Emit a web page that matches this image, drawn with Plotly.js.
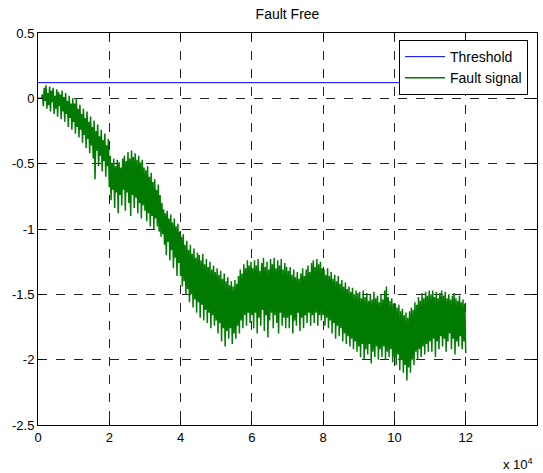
<!DOCTYPE html>
<html>
<head>
<meta charset="utf-8">
<script src="https://cdn.plot.ly/plotly-3.0.1.min.js"></script>
<style>html,body{margin:0;padding:0;background:#fff;}#chart{width:543px;height:473px;}</style>
</head>
<body>
<div id="chart"></div>
<script>
// sample interval of the fault signal (x units)
var sampleStep = 250;

// Fault signal values (one value per sample, 40 per 1e4)
var faultSignal = [
  0.00, 0.00, 0.00, 0.00, 0.00, 0.03, -0.06, 0.08, -0.02, 0.10, -0.08, 0.04, -0.05, 0.09, -0.10, 0.06, -0.03, 0.08, -0.12, 0.02, -0.08, 0.07, -0.14, 0.05, -0.06, 0.03, -0.16, 0.06, -0.10, 0.01, -0.18, 0.04, -0.12, -0.02, -0.22, 0.02, -0.15, -0.04, -0.24, 0.00,
  -0.18, -0.04, -0.27, 0.00, -0.22, -0.08, -0.30, -0.05, -0.24, -0.12, -0.34, -0.08, -0.28, -0.15, -0.38, -0.10, -0.31, -0.18, -0.42, -0.14, -0.36, -0.22, -0.46, -0.17, -0.62, -0.25, -0.40, -0.20, -0.52, -0.29, -0.44, -0.24, -0.56, -0.32, -0.48, -0.27, -0.60, -0.36, -0.52, -0.31,
  -0.68, -0.44, -0.78, -0.50, -0.70, -0.46, -0.84, -0.52, -0.72, -0.47, -0.88, -0.49, -0.74, -0.53, -0.82, -0.46, -0.70, -0.44, -0.86, -0.48, -0.72, -0.41, -0.80, -0.46, -0.90, -0.40, -0.74, -0.45, -0.84, -0.42, -0.76, -0.47, -0.88, -0.44, -0.80, -0.49, -0.92, -0.47, -0.82, -0.53,
  -0.86, -0.55, -0.94, -0.52, -0.88, -0.60, -0.98, -0.57, -0.90, -0.64, -1.00, -0.62, -0.92, -0.70, -0.98, -0.66, -1.02, -0.74, -1.06, -0.80, -1.04, -0.85, -1.12, -0.88, -1.20, -0.86, -1.10, -0.92, -1.24, -0.89, -1.16, -0.95, -1.30, -0.92, -1.22, -0.98, -1.36, -0.96, -1.26, -1.02,
  -1.36, -1.06, -1.44, -1.04, -1.40, -1.12, -1.50, -1.09, -1.46, -1.16, -1.56, -1.12, -1.50, -1.19, -1.60, -1.15, -1.54, -1.22, -1.64, -1.18, -1.56, -1.20, -1.68, -1.24, -1.58, -1.19, -1.70, -1.27, -1.62, -1.23, -1.72, -1.29, -1.64, -1.25, -1.76, -1.31, -1.66, -1.28, -1.74, -1.33,
  -1.70, -1.30, -1.80, -1.35, -1.72, -1.32, -1.86, -1.38, -1.76, -1.34, -1.90, -1.40, -1.78, -1.37, -1.84, -1.43, -1.76, -1.40, -1.88, -1.44, -1.80, -1.39, -1.84, -1.42, -1.74, -1.36, -1.80, -1.31, -1.70, -1.34, -1.76, -1.27, -1.66, -1.30, -1.74, -1.24, -1.64, -1.28, -1.72, -1.25,
  -1.66, -1.30, -1.76, -1.24, -1.64, -1.28, -1.80, -1.23, -1.68, -1.32, -1.74, -1.26, -1.62, -1.22, -1.78, -1.29, -1.66, -1.25, -1.83, -1.31, -1.70, -1.23, -1.64, -1.27, -1.76, -1.22, -1.66, -1.30, -1.72, -1.24, -1.80, -1.28, -1.64, -1.23, -1.74, -1.31, -1.68, -1.26, -1.76, -1.29,
  -1.68, -1.32, -1.76, -1.29, -1.66, -1.35, -1.80, -1.31, -1.70, -1.37, -1.74, -1.33, -1.64, -1.38, -1.78, -1.34, -1.68, -1.30, -1.76, -1.36, -1.66, -1.31, -1.72, -1.28, -1.64, -1.33, -1.74, -1.26, -1.66, -1.24, -1.72, -1.29, -1.64, -1.23, -1.74, -1.27, -1.66, -1.25, -1.70, -1.30,
  -1.66, -1.31, -1.74, -1.35, -1.68, -1.30, -1.76, -1.36, -1.70, -1.33, -1.80, -1.38, -1.72, -1.35, -1.84, -1.40, -1.74, -1.36, -1.82, -1.42, -1.76, -1.39, -1.86, -1.44, -1.80, -1.41, -1.88, -1.46, -1.82, -1.44, -1.90, -1.48, -1.84, -1.45, -1.92, -1.50, -1.86, -1.47, -1.94, -1.49,
  -1.90, -1.48, -1.98, -1.53, -1.88, -1.47, -2.00, -1.52, -1.92, -1.49, -1.96, -1.55, -1.88, -1.50, -2.03, -1.54, -1.94, -1.48, -1.98, -1.53, -1.90, -1.51, -2.00, -1.56, -1.92, -1.50, -1.98, -1.54, -1.90, -1.47, -2.00, -1.44, -1.94, -1.52, -1.98, -1.55, -1.92, -1.53, -2.02, -1.57,
  -1.98, -1.57, -2.04, -1.60, -1.96, -1.58, -2.08, -1.63, -2.00, -1.61, -2.10, -1.66, -2.04, -1.64, -2.16, -1.68, -2.06, -1.63, -2.10, -1.60, -2.00, -1.62, -2.04, -1.56, -1.94, -1.58, -2.00, -1.52, -1.92, -1.55, -1.98, -1.49, -1.90, -1.53, -1.96, -1.48, -1.88, -1.51, -1.94, -1.47,
  -1.86, -1.50, -1.94, -1.47, -1.84, -1.52, -1.98, -1.48, -1.86, -1.53, -1.92, -1.49, -1.82, -1.47, -1.90, -1.51, -1.84, -1.48, -1.94, -1.53, -1.86, -1.50, -1.80, -1.54, -1.92, -1.51, -1.84, -1.49, -1.96, -1.53, -1.86, -1.55, -1.90, -1.51, -1.82, -1.56, -1.92, -1.54, -1.86, -1.57,
  -1.95
];

// Threshold line
var thresholdX = [0, 120000];
var thresholdY = [0.12, 0.12];

// Axis ticks
var xTickVals = [0, 20000, 40000, 60000, 80000, 100000, 120000, 140000];
var xTickText = ['0', '2', '4', '6', '8', '10', '12', '14'];
var yTickVals = [0.5, 0, -0.5, -1, -1.5, -2, -2.5];
var yTickText = ['0.5', '0', '-0.5', '-1', '-1.5', '-2', '-2.5'];

var faultX = faultSignal.map(function (v, i) { return i * sampleStep; });

var FONT = 'Liberation Sans, Arial, Helvetica, sans-serif';
var FS = 13;

var traces = [
  {
    x: thresholdX, y: thresholdY, mode: 'lines', name: 'Threshold',
    line: {color: '#0000ff', width: 1}, type: 'scatter'
  },
  {
    x: faultX, y: faultSignal, mode: 'lines', name: 'Fault signal',
    line: {color: '#007a00', width: 1.5}, type: 'scatter'
  }
];

var axisCommon = {
  showline: true, linecolor: '#000', linewidth: 1, mirror: 'ticks',
  ticks: 'inside', ticklen: 5, tickcolor: '#000', tickwidth: 1,
  showgrid: true, gridcolor: '#222', gridwidth: 1, griddash: 'dash',
  zeroline: false, tickfont: {family: FONT, size: FS, color: '#000'}
};

var layout = {
  width: 543, height: 473,
  margin: {l: 38, r: 6, t: 33, b: 48},
  paper_bgcolor: '#fff', plot_bgcolor: '#fff',
  font: {family: FONT, size: FS, color: '#000'},
  title: {text: 'Fault Free', font: {family: FONT, size: 14, color: '#000'},
          x: 0.5, xref: 'paper', y: 1 - 14 / 473, yref: 'container', yanchor: 'middle'},
  xaxis: Object.assign({}, axisCommon, {
    range: [0, 140000], tickmode: 'array', tickvals: xTickVals, ticktext: xTickText
  }),
  yaxis: Object.assign({}, axisCommon, {
    range: [-2.5, 0.5], tickmode: 'array', tickvals: yTickVals, ticktext: yTickText
  }),
  showlegend: true,
  legend: {
    x: 0.982, xanchor: 'right', y: 0.982, yanchor: 'top',
    bgcolor: '#fff', bordercolor: '#000', borderwidth: 1,
    font: {family: FONT, size: 14, color: '#000'},
    itemwidth: 40, tracegroupgap: 0
  },
  annotations: [{
    text: 'x 10<sup>4</sup>', xref: 'paper', yref: 'paper',
    x: 0.996, xanchor: 'right', y: -0.125, yanchor: 'bottom', showarrow: false,
    font: {family: FONT, size: FS, color: '#000'}
  }]
};

Plotly.newPlot('chart', traces, layout, {displayModeBar: false, staticPlot: true});
</script>
</body>
</html>
